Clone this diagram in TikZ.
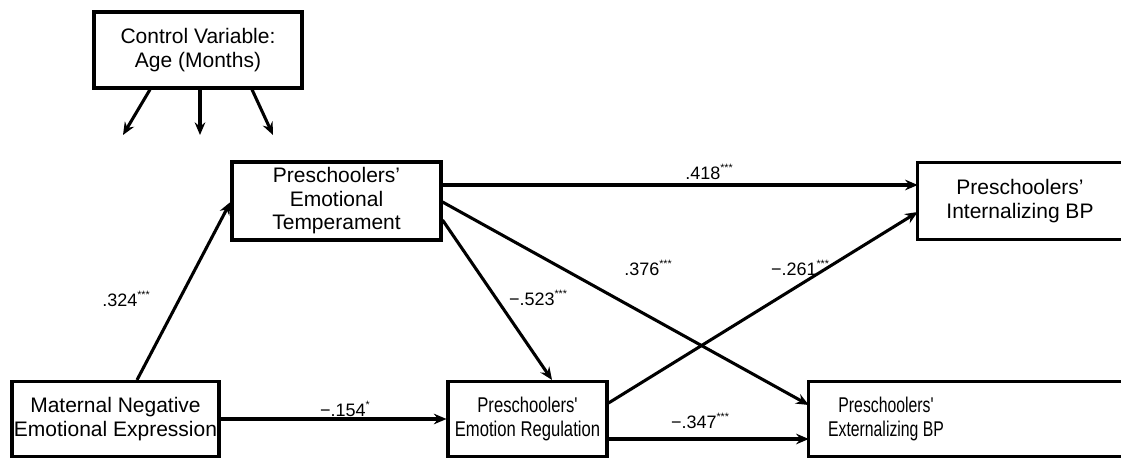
\documentclass[tikz,border=0pt]{standalone}
\usepackage{fontspec}
\setmainfont{Liberation Sans}
\newfontfamily\regfont[FakeStretch=0.78]{Liberation Sans}
\newfontfamily\extfont[FakeStretch=0.74]{Liberation Sans}
\usetikzlibrary{arrows.meta,calc}
\newcommand{\sig}[1]{\raisebox{0.42em}{\fontsize{8}{8}\selectfont #1}}
\tikzset{
  boxfont/.style={font=\fontsize{15.75}{17.6}\selectfont},
  box/.style={draw, line width=2.3pt, inner sep=0pt, align=center, boxfont},
  textbox/.style={draw=none, inner sep=0pt, align=center, boxfont},
  boxline/.style={line width=2.3pt},
  conn/.style={line width=2.3pt, -{Stealth[length=9.5pt,width=8pt,inset=3.2pt]}},
  lab/.style={inner sep=0pt, font=\fontsize{13.5}{15}\selectfont}
}
\begin{document}
\begin{tikzpicture}[x=0.75pt,y=-0.75pt]
\useasboundingbox (0,0) rectangle (1121,459);
% nodes
\node[box, minimum width=208*0.75pt, minimum height=76*0.75pt] (ctrl) at (198,50) {Control Variable:\\Age (Months)};
\node[box, minimum width=209*0.75pt, minimum height=78*0.75pt] (temp) at (336.5,201) {Preschoolers'\\Emotional\\Temperament};
\node[box, minimum width=207*0.75pt, minimum height=75*0.75pt] (mat) at (115.5,419) {Maternal Negative\\Emotional Expression};
\node[box, minimum width=159*0.75pt, minimum height=75*0.75pt, font=\regfont\fontsize{16}{17.6}\selectfont] (reg) at (527.5,419) {Preschoolers'\\Emotion Regulation};
\node[textbox, minimum width=204*0.75pt, minimum height=76*0.75pt] (intz) at (1020,201) {Preschoolers'\\Internalizing BP};
\node[textbox, minimum width=154*0.75pt, minimum height=75*0.75pt, font=\extfont\fontsize{16}{17.6}\selectfont] (ext) at (886,419) {Preschoolers'\\Externalizing BP};
\draw[boxline] (intz.north west) rectangle ($(intz.south east)+(12,0)$);
\draw[boxline] (ext.north west) rectangle ($(ext.south east)+(250,0)$);
% free ends of control arrows
\coordinate (c1) at (123,135);
\coordinate (c2) at (200,135);
\coordinate (c3) at (273,135);
\draw[conn] ($(ctrl.south)+(-48,0)$) -- (c1);
\draw[conn] ($(ctrl.south)+(2,0)$) -- (c2);
\draw[conn] ($(ctrl.south)+(54,0)$) -- (c3);
% paths
\draw[conn] ($(mat.north)+(21.5,0)$) -- ($(temp.west)+(0,1)$);
\draw[conn] (mat.east) -- (reg.west);
\draw[conn] ($(temp.east)+(0,-16)$) -- ($(intz.west)+(0,-16)$);
\draw[conn] ($(temp.east)+(0,1)$) -- ($(ext.west)+(0,-14)$);
\draw[conn] ($(temp.east)+(0,19)$) -- ($(reg.north)+(24.5,0)$);
\draw[conn] ($(reg.east)+(0,-16)$) -- ($(intz.west)+(0,11)$);
\draw[conn] ($(reg.east)+(0,20)$) -- ($(ext.west)+(0,20)$);
% labels
\node[lab] (l1) at (709,172) {.418\sig{***}};
\node[lab] (l2) at (648,268) {.376\sig{***}};
\node[lab] (l3) at (800,268) {−.261\sig{***}};
\node[lab] (l4) at (538,298) {−.523\sig{***}};
\node[lab] (l5) at (126,299) {.324\sig{***}};
\node[lab] (l6) at (345,409) {−.154\sig{*}};
\node[lab] (l7) at (700,421) {−.347\sig{***}};
\end{tikzpicture}
\end{document}
